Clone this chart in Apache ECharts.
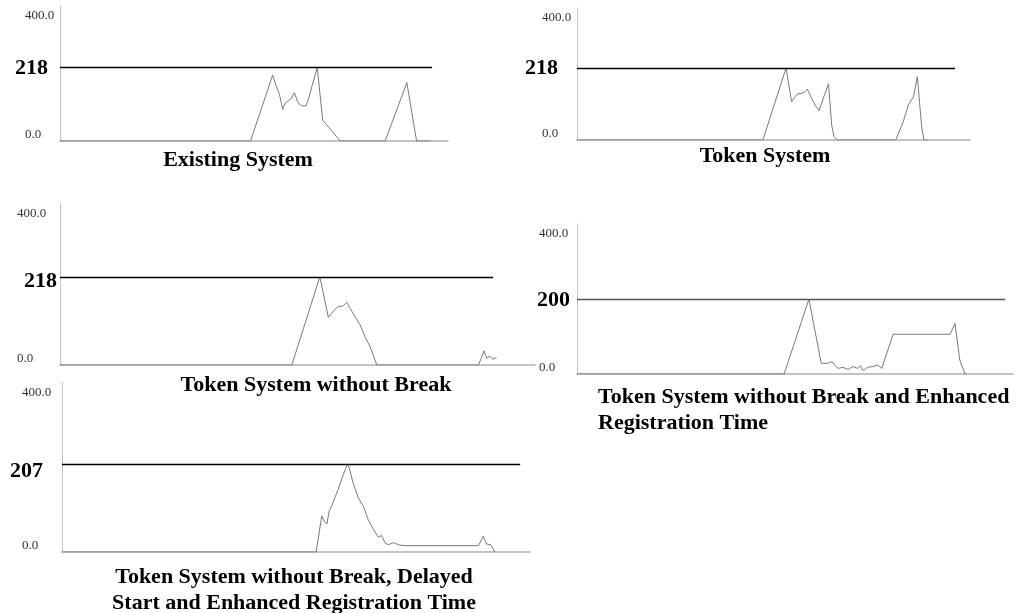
<!DOCTYPE html>
<html>
<head>
<meta charset="utf-8">
<title>Queue length comparison</title>
<script src="https://cdn.jsdelivr.net/npm/echarts@6/dist/echarts.min.js"></script>
<style>
html, body { margin: 0; padding: 0; background: #fff; }
#main { width: 1019px; height: 613px; }
</style>
</head>
<body>
<div id="main"></div>
<script>
// time (share of the run, 0-100) and queue length
var t1 = [0, 49.1, 54.8, 55.8, 56.5, 57.4, 58.0, 58.6, 59.1, 59.7, 60.4, 61.4, 62.3, 63.4, 64.0, 64.9, 66.3, 67.7, 72.2, 83.8, 89.4, 91.9, 95.4];
var v1 = [0, 0, 195, 161, 141, 94, 112, 117, 112, 127, 143, 112, 104, 104, 122, 161, 218, 62, 0, 0, 173, 0, 0];

var t2 = [0, 47.3, 53.2, 54.6, 55.5, 56.3, 57.2, 58.0, 58.6, 59.7, 60.6, 61.6, 62.8, 64.0, 64.8, 65.4, 66.2, 81.1, 83.0, 84.3, 85.6, 86.6, 87.7, 88.3, 89.3];
var v2 = [0, 0, 218, 116, 131, 141, 141, 146, 154, 126, 106, 89, 131, 170, 45, 10, 0, 0, 55, 106, 131, 192, 40, 0, 0];

var t3 = [0, 48.8, 54.7, 56.5, 57.2, 57.9, 58.6, 59.6, 60.4, 61.1, 62.1, 63.2, 64.2, 65.3, 66.7, 88.1, 89.3, 89.8, 90.5, 91.1, 91.9];
var v3 = [0, 0, 218, 118, 128, 138, 145, 146, 155, 140, 120, 99, 70, 45, 0, 0, 35, 17, 22, 14, 19];

var t4 = [0, 47.5, 53.2, 56.0, 56.4, 57.3, 58.5, 59.2, 59.9, 61.0, 62.2, 63.3, 64.4, 65.0, 65.6, 66.7, 67.9, 69.0, 69.9, 72.5, 85.6, 86.7, 87.8, 89.0, 89.4];
var v4 = [0, 0, 200, 29, 33, 28, 33, 22, 15, 18, 12, 20, 15, 22, 9, 18, 20, 24, 15, 106, 106, 135, 37, 0, 0];

var t5 = [0, 54.3, 55.5, 56.0, 56.6, 57.1, 57.6, 58.3, 59.0, 59.8, 60.5, 61.0, 61.4, 62.2, 63.3, 64.4, 65.4, 66.5, 67.6, 68.3, 69.0, 69.7, 70.8, 71.9, 72.9, 89.0, 90.0, 90.7, 91.6, 92.5];
var v5 = [0, 0, 85, 73, 66, 97, 108, 128, 147, 174, 194, 207, 198, 163, 128, 108, 77, 54, 35, 39, 22, 17, 22, 17, 15, 15, 37, 19, 17, 0];

var refValues = [218, 218, 218, 200, 207];
var refEnds = [95.9, 96.2, 91.2, 98.2, 97.9];
var yMin = 0, yMax = 400;
var yTickLabels = { 0: '0.0', 400: '400.0' };
var titles = [
    'Existing System',
    'Token System',
    'Token System without Break',
    'Token System without Break and Enhanced\nRegistration Time',
    'Token System without Break, Delayed\nStart and Enhanced Registration Time'
];

var times = [t1, t2, t3, t4, t5];
var values = [v1, v2, v3, v4, v5];

// where each panel sits on the page
var panels = [
    { left: 60, top: 6, width: 388, height: 135, labelMargin: 35, refGap: 12, refShift: 1, refColor: '#000' },
    { left: 577, top: 8, width: 393, height: 132, labelMargin: 35, refGap: 19, refShift: 0, refColor: '#000' },
    { left: 60, top: 203.5, width: 475, height: 161.5, labelMargin: 43, refGap: 3, refShift: 4, refColor: '#000' },
    { left: 577, top: 224, width: 436, height: 150, labelMargin: 38, refGap: 7, refShift: 1, refColor: '#555' },
    { left: 62, top: 382.5, width: 468, height: 169.5, labelMargin: 40, refGap: 19, refShift: 7, refColor: '#000' }
];
var titlePos = [
    { left: 238, top: 147, align: 'center' },
    { left: 765, top: 143, align: 'center' },
    { left: 316, top: 372, align: 'center' },
    { left: 598, top: 384, align: 'left' },
    { left: 294, top: 564, align: 'center' }
];

var serif = '"Liberation Serif", "Times New Roman", serif';

var grid = [], xAxis = [], yAxis = [], series = [], title = [];

panels.forEach(function (p, i) {
    grid.push({ left: p.left, top: p.top, width: p.width, height: p.height });
    xAxis.push({
        type: 'value', gridIndex: i, min: 0, max: 100,
        axisLine: { show: true, onZero: false, lineStyle: { color: '#b0b0b0', width: 1.5 } },
        axisTick: { show: false }, axisLabel: { show: false }, splitLine: { show: false }
    });
    yAxis.push({
        type: 'value', gridIndex: i, min: yMin, max: yMax, interval: 400,
        axisLine: { show: true, lineStyle: { color: '#c4c4c4', width: 1 } },
        axisTick: { show: false }, splitLine: { show: false },
        axisLabel: {
            margin: p.labelMargin, align: 'left',
            formatter: function (val) {
                return val === 0 ? '{b|' + yTickLabels[0] + '}' : '{t|' + yTickLabels[400] + '}';
            },
            rich: {
                t: { fontFamily: serif, fontSize: 13, color: '#333', padding: [20, 0, 0, 0] },
                b: { fontFamily: serif, fontSize: 13, color: '#333', padding: [0, 0, 13, 0] }
            }
        }
    });
    series.push({
        type: 'line', xAxisIndex: i, yAxisIndex: i,
        data: times[i].map(function (x, k) { return [x, values[i][k]]; }),
        showSymbol: false, animation: false,
        lineStyle: { color: '#7a7a7a', width: 1 },
        markLine: {
            silent: true, symbol: 'none', animation: false,
            lineStyle: { color: p.refColor, width: 1.3, type: 'solid' },
            label: {
                show: true, position: 'start', distance: p.refGap,
                formatter: '{v|' + refValues[i] + '}',
                rich: {
                    v: {
                        fontFamily: serif, fontWeight: 'bold', fontSize: 22, color: '#000',
                        padding: [p.refShift * 2, 0, 0, 0]
                    }
                }
            },
            data: [[{ coord: [0, refValues[i]] }, { coord: [refEnds[i], refValues[i]] }]]
        }
    });
    title.push({
        text: titles[i],
        left: titlePos[i].left, top: titlePos[i].top,
        textAlign: titlePos[i].align,
        padding: 0,
        textStyle: { fontFamily: serif, fontWeight: 'bold', fontSize: 22, lineHeight: 26, color: '#000' }
    });
});

var myChart = echarts.init(document.getElementById('main'));
var option = {
    backgroundColor: '#fff',
    animation: false,
    title: title,
    grid: grid,
    xAxis: xAxis,
    yAxis: yAxis,
    series: series
};
myChart.setOption(option);
</script>
</body>
</html>
